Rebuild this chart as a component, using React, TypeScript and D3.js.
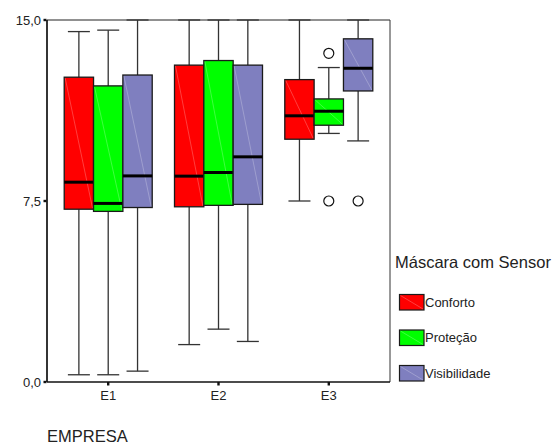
import React from "react";
import * as d3 from "d3";

const categories = ["E1", "E2", "E3"];
const seriesNames = ["Conforto", "Proteção", "Visibilidade"];
const seriesColors = ["#ff0000", "#00ff00", "#7f7fbf"];

// [lowWhisker, q1, median, q3, highWhisker] per category
const confortoStats = [
  [0.3, 7.16, 8.28, 12.63, 14.52],
  [1.55, 7.26, 8.53, 13.13, 15.0],
  [7.5, 10.06, 11.03, 12.53, 15.0],
];
const protecaoStats = [
  [0.3, 7.07, 7.4, 12.27, 14.58],
  [2.19, 7.32, 8.68, 13.32, 15.0],
  [10.3, 10.64, 11.22, 11.73, 13.03],
];
const visibilidadeStats = [
  [0.45, 7.23, 8.54, 12.72, 15.0],
  [1.68, 7.36, 9.33, 13.13, 15.0],
  [9.99, 12.06, 13.0, 14.22, 15.0],
];
const confortoOutliers = [[], [], []];
const protecaoOutliers = [[], [], [13.62, 7.5]];
const visibilidadeOutliers = [[], [], [7.5]];

const yTicks = [0, 7.5, 15];
const yTickLabels = ["0,0", "7,5", "15,0"];

const allStats = [confortoStats, protecaoStats, visibilidadeStats];
const allOutliers = [confortoOutliers, protecaoOutliers, visibilidadeOutliers];

const W = 559;
const H = 444;
const left = 47;
const right = 390;
const top = 20;
const bottom = 382;
const FONT = "Arial, 'Liberation Sans', sans-serif";

export default function App() {
  const y = d3.scaleLinear().domain([0, 15]).range([bottom, top]);
  const x = d3.scalePoint<string>().domain(categories).range([left, right]).padding(0.555);
  const inner = d3.scaleBand<string>().domain(seriesNames).range([-44, 44]).padding(0);
  const bw = inner.bandwidth();
  const capW = 22;

  return (
    <svg
      width={W}
      height={H}
      style={{ position: "absolute", left: 0, top: 0, background: "#fff" }}
      fontFamily={FONT}
    >
      {/* frame */}
      <line x1={left} x2={right} y1={top} y2={top} stroke="#222" strokeWidth={1} />
      <line x1={right} x2={right} y1={top} y2={bottom} stroke="#333" strokeWidth={1} />

      {/* boxes */}
      {categories.map((cat, ci) =>
        seriesNames.map((s, si) => {
          const [lo, q1, med, q3, hi] = allStats[si][ci];
          const x0 = (x(cat) as number) + (inner(s) as number);
          const cx = x0 + bw / 2;
          const yTop = y(q3);
          const yBot = y(q1);
          return (
            <g key={cat + s}>
              <line x1={cx} x2={cx} y1={y(hi)} y2={yTop} stroke="#333" strokeWidth={1.3} />
              <line x1={cx} x2={cx} y1={yBot} y2={y(lo)} stroke="#333" strokeWidth={1.3} />
              <line x1={cx - capW / 2} x2={cx + capW / 2} y1={y(hi)} y2={y(hi)} stroke="#333" strokeWidth={1.3} />
              <line x1={cx - capW / 2} x2={cx + capW / 2} y1={y(lo)} y2={y(lo)} stroke="#333" strokeWidth={1.3} />
              <rect
                x={x0}
                y={yTop}
                width={bw}
                height={yBot - yTop}
                fill={seriesColors[si]}
                stroke="#1a1a1a"
                strokeWidth={1.3}
              />
              <line
                x1={x0 + 1}
                y1={yTop + 1}
                x2={x0 + bw - 1}
                y2={yBot - 1}
                stroke="#fff"
                strokeOpacity={0.35}
                strokeWidth={0.7}
              />
              <line x1={x0} x2={x0 + bw} y1={y(med)} y2={y(med)} stroke="#000" strokeWidth={3} />
              {allOutliers[si][ci].map((v, oi) => (
                <circle key={oi} cx={cx} cy={y(v)} r={5} fill="none" stroke="#111" strokeWidth={1.2} />
              ))}
            </g>
          );
        })
      )}

      {/* axes */}
      <line x1={left} x2={left} y1={top} y2={bottom} stroke="#111" strokeWidth={1.7} />
      <line x1={left} x2={right} y1={bottom} y2={bottom} stroke="#111" strokeWidth={1.7} />
      {yTicks.map((t, i) => (
        <g key={t}>
          <rect x={left - 3.5} y={y(t) - 1.2} width={3} height={2.4} fill="#111" />
          <text x={41} y={y(t)} dy="0.36em" textAnchor="end" fontSize={13} fill="#222">
            {yTickLabels[i]}
          </text>
        </g>
      ))}
      {categories.map((c) => (
        <g key={c}>
          <rect x={(x(c) as number) - 1.2} y={bottom} width={2.4} height={3.5} fill="#111" />
          <text x={x(c) as number} y={400} textAnchor="middle" fontSize={13} fill="#222">
            {c}
          </text>
        </g>
      ))}
      <text x={47} y={441.5} fontSize={16.5} fill="#222">
        EMPRESA
      </text>

      {/* legend */}
      <text x={395} y={268} fontSize={16.5} fill="#222">
        Máscara com Sensor
      </text>
      {seriesNames.map((s, i) => {
        const ly = 294.5 + i * 35.5;
        return (
          <g key={s}>
            <rect x={399.5} y={ly} width={24.5} height={15.5} fill={seriesColors[i]} stroke="#1a1a1a" strokeWidth={1.2} />
            <line x1={400.5} y1={ly + 1} x2={423} y2={ly + 14.5} stroke="#fff" strokeOpacity={0.35} strokeWidth={0.7} />
            <text x={425} y={ly + 7.75} dy="0.36em" fontSize={13} fill="#222">
              {s}
            </text>
          </g>
        );
      })}
    </svg>
  );
}
